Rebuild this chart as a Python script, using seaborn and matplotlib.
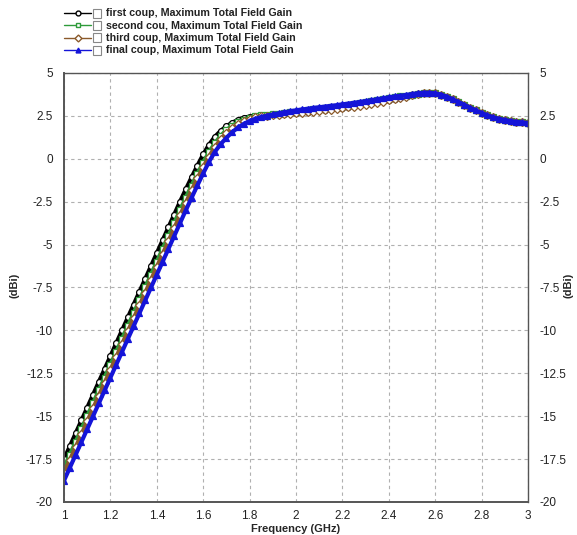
import numpy as np
import pandas as pd
import seaborn as sns
import matplotlib.pyplot as plt
from matplotlib.lines import Line2D
from matplotlib.patches import Rectangle

# frequency grid (GHz), 0.025 step
freq = np.round(np.arange(1.0, 3.0001, 0.025), 3)

# gain values (dBi)
first_coup = [
    -17.5, -16.75, -16.0, -15.25, -14.5, -13.75, -13.0, -12.25, -11.5, -10.75,
    -10.0, -9.25, -8.5, -7.75, -7.0, -6.25, -5.5, -4.75, -4.0, -3.25,
    -2.5, -1.78, -1.08, -0.4, 0.25, 0.82, 1.28, 1.62, 1.9, 2.1,
    2.27, 2.39, 2.46, 2.51, 2.53, 2.56, 2.58, 2.6, 2.63, 2.66,
    2.69, 2.72, 2.75, 2.78, 2.82, 2.86, 2.9, 2.94, 2.98, 3.03,
    3.08, 3.13, 3.18, 3.24, 3.3, 3.36, 3.43, 3.5, 3.57, 3.64,
    3.72, 3.79, 3.84, 3.85, 3.81, 3.74, 3.62, 3.47, 3.31, 3.15,
    2.98, 2.82, 2.67, 2.53, 2.42, 2.33, 2.26, 2.2, 2.15, 2.12,
    2.08,
]
second_cou = [
    -18.0, -17.25, -16.5, -15.75, -15.0, -14.25, -13.5, -12.75, -12.0, -11.25,
    -10.5, -9.75, -9.0, -8.25, -7.5, -6.75, -6.0, -5.25, -4.5, -3.75,
    -3.0, -2.27, -1.56, -0.88, -0.22, 0.38, 0.9, 1.33, 1.67, 1.93,
    2.13, 2.28, 2.39, 2.47, 2.53, 2.57, 2.6, 2.63, 2.67, 2.71,
    2.75, 2.79, 2.83, 2.87, 2.91, 2.95, 2.99, 3.03, 3.08, 3.13,
    3.18, 3.23, 3.28, 3.34, 3.4, 3.46, 3.52, 3.58, 3.63, 3.68,
    3.74, 3.8, 3.84, 3.85, 3.81, 3.74, 3.62, 3.47, 3.31, 3.15,
    2.98, 2.82, 2.67, 2.53, 2.42, 2.33, 2.26, 2.2, 2.15, 2.12,
    2.08,
]
third_coup = [
    -18.3, -17.55, -16.8, -16.05, -15.3, -14.55, -13.8, -13.05, -12.3, -11.55,
    -10.8, -10.05, -9.3, -8.55, -7.8, -7.05, -6.3, -5.55, -4.8, -4.05,
    -3.3, -2.56, -1.84, -1.14, -0.48, 0.13, 0.67, 1.13, 1.5, 1.8,
    2.03, 2.2, 2.32, 2.41, 2.47, 2.51, 2.54, 2.57, 2.6, 2.63,
    2.66, 2.69, 2.72, 2.75, 2.78, 2.82, 2.86, 2.9, 2.94, 2.99,
    3.04, 3.09, 3.14, 3.2, 3.27, 3.33, 3.4, 3.47, 3.55, 3.62,
    3.7, 3.78, 3.83, 3.85, 3.81, 3.74, 3.62, 3.47, 3.31, 3.15,
    2.98, 2.82, 2.67, 2.53, 2.42, 2.33, 2.26, 2.2, 2.15, 2.12,
    2.08,
]
final_coup = [
    -18.75, -18.0, -17.25, -16.5, -15.75, -15.0, -14.25, -13.5, -12.75, -12.0,
    -11.25, -10.5, -9.75, -9.0, -8.25, -7.5, -6.75, -6.0, -5.25, -4.5,
    -3.75, -3.0, -2.27, -1.55, -0.85, -0.18, 0.4, 0.85, 1.22, 1.55,
    1.82, 2.03, 2.2, 2.33, 2.43, 2.51, 2.58, 2.65, 2.71, 2.77,
    2.82, 2.87, 2.91, 2.96, 3.0, 3.04, 3.08, 3.12, 3.17, 3.21,
    3.26, 3.31, 3.36, 3.41, 3.47, 3.52, 3.58, 3.63, 3.67, 3.72,
    3.77, 3.82, 3.85, 3.85, 3.81, 3.74, 3.62, 3.47, 3.31, 3.15,
    2.98, 2.82, 2.67, 2.53, 2.42, 2.33, 2.26, 2.2, 2.15, 2.12,
    2.08,
]

labels = [
    "first coup, Maximum Total Field Gain",
    "second cou, Maximum Total Field Gain",
    "third coup, Maximum Total Field Gain",
    "final coup, Maximum Total Field Gain",
]
yticks = [5, 2.5, 0, -2.5, -5, -7.5, -10, -12.5, -15, -17.5, -20]
ytick_labels = ["5", "2.5", "0", "-2.5", "-5", "-7.5", "-10", "-12.5", "-15", "-17.5", "-20"]
xticks = [1, 1.2, 1.4, 1.6, 1.8, 2, 2.2, 2.4, 2.6, 2.8, 3]
xtick_labels = ["1", "1.2", "1.4", "1.6", "1.8", "2", "2.2", "2.4", "2.6", "2.8", "3"]

series = [first_coup, second_cou, third_coup, final_coup]
colors = ["black", "#2e9b3a", "#8b5a2b", "#1414d8"]
markers = ["o", "s", "D", "^"]
face = ["white", "white", "white", "#1414d8"]
msize = [4.2, 3.8, 3.8, 5]

sns.set_style("white")
plt.rcParams["font.family"] = ["Liberation Sans", "DejaVu Sans"]

fig = plt.figure(figsize=(5.77, 5.35), dpi=100)
ax = fig.add_axes([0.111, 0.0617, 0.804, 0.802])

for vals, col, mk, fc, ms in zip(series, colors, markers, face, msize):
    sns.lineplot(x=freq, y=vals, ax=ax, color=col, marker=mk, markersize=ms,
                 markerfacecolor=fc, markeredgecolor=col, markeredgewidth=0.9,
                 linewidth=3, legend=False)

ax.set_xlim(1, 3)
ax.set_ylim(-20, 5)
ax.set_xticks(xticks)
ax.set_xticklabels(xtick_labels)
ax.set_yticks(yticks)
ax.set_yticklabels(ytick_labels)
ax.tick_params(axis="both", length=0, labelsize=8.5, colors="#222222")
ax.tick_params(axis="x", pad=6)
ax.tick_params(axis="y", pad=8, labelright=True)
ax.grid(True, linestyle=(0, (3, 3)), color="#b0b0b0", linewidth=0.8)
for side, sp in ax.spines.items():
    sp.set_visible(True)
    sp.set_color("#555555")
    sp.set_linewidth(1.4 if side in ("left", "bottom") else 1.0)

ax.set_xlabel("Frequency (GHz)", fontsize=8, fontweight="bold", labelpad=1)
ax.set_ylabel("")
fig.text(15 / 577, 0.467, "(dBi)", fontsize=8, fontweight="bold",
         rotation=90, ha="center", va="center")
fig.text(569 / 577, 0.467, "(dBi)", fontsize=8, fontweight="bold",
         rotation=90, ha="center", va="center")

# legend block drawn by hand at top-left
for i, (lab, col, mk, fc) in enumerate(zip(labels, colors, markers, face)):
    yy = 1 - (13 + i * 12.4) / 535
    fig.add_artist(Line2D([64 / 577, 91 / 577], [yy, yy], color=col, linewidth=1,
                          transform=fig.transFigure))
    fig.add_artist(Line2D([77.5 / 577], [yy], color=col, marker=mk, markersize=3.5,
                          markerfacecolor=fc, markeredgecolor=col,
                          transform=fig.transFigure))
    fig.add_artist(Rectangle((93 / 577, yy - 4.5 / 535), 8 / 577, 9 / 535,
                             facecolor="white", edgecolor="#888888", linewidth=0.8,
                             transform=fig.transFigure))
    fig.text(106 / 577, yy, lab, fontsize=7.7, fontweight="bold", color="#222222",
             ha="left", va="center")

fig.savefig("out.png", dpi=100)
